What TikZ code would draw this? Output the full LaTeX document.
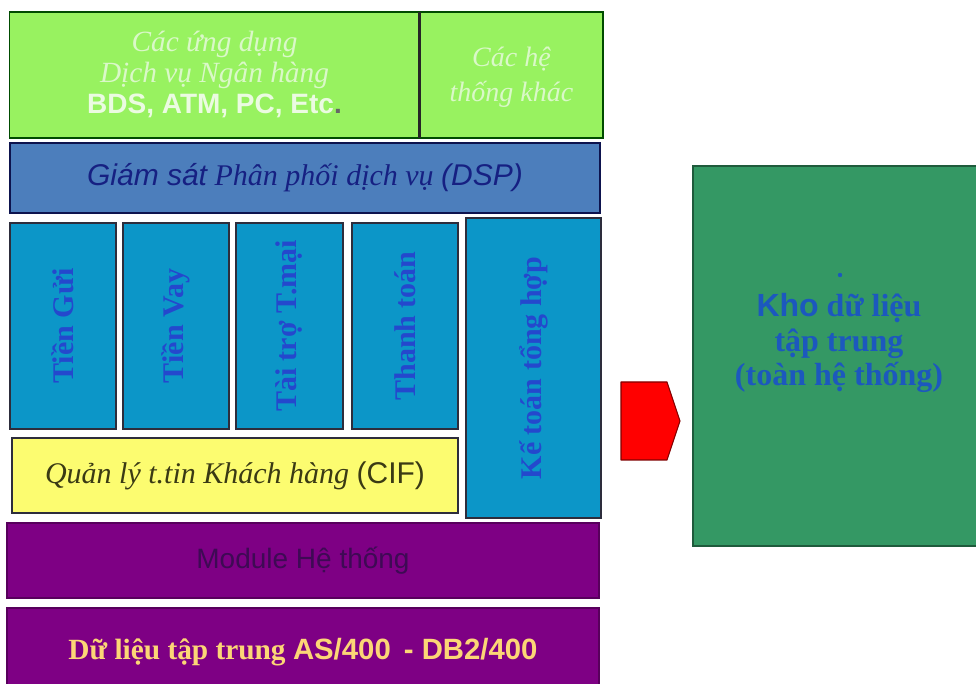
\documentclass[tikz,border=0pt]{standalone}
\usepackage{fontspec}
\setmainfont{Liberation Serif}
\setsansfont{Liberation Sans}
\definecolor{lgreen}{RGB}{152,242,96}
\definecolor{dspblue}{RGB}{76,126,188}
\definecolor{colblue}{RGB}{12,150,200}
\definecolor{cifyel}{RGB}{252,252,112}
\definecolor{purp}{RGB}{126,0,132}
\definecolor{bgreen}{RGB}{52,152,100}
\definecolor{paletxt}{RGB}{218,248,200}
\definecolor{navytxt}{RGB}{22,32,130}
\definecolor{coltxt}{RGB}{36,72,205}
\definecolor{khotxt}{RGB}{28,88,190}
\definecolor{oltxt}{RGB}{58,58,20}
\definecolor{modtxt}{RGB}{62,10,84}
\definecolor{goldtxt}{RGB}{252,214,118}
\definecolor{edge}{RGB}{45,45,60}
\begin{document}
\begin{tikzpicture}[x=0.75pt,y=-0.75pt,
  blk/.style={draw=edge, line width=1.1pt, inner sep=0pt, outer sep=0pt, align=center},
  coltext/.style={rotate=90, text=coltxt, font=\fontsize{22.5}{24}\selectfont\bfseries},
]
\useasboundingbox (0,0) rectangle (976,684);
% top green boxes
\node[blk, fill=lgreen, draw=black!70!green, minimum width=307.5pt, minimum height=94.5pt] (apps) at (214.5,75) {};
\node[blk, fill=lgreen, draw=black!70!green, minimum width=137pt, minimum height=94.5pt] (other) at (511.5,75) {};
\draw[line width=2.2pt, black!85] (apps.north east) -- (apps.south east);
\node[align=center, text=paletxt, font={\fontsize{22}{23.5}\selectfont\itshape}] (appstxt) at ([yshift=0.5pt]apps.center)
  {Các ứng dụng\\
   Dịch vụ Ngân hàng\\
   {\fontsize{21}{23.5}\selectfont\upshape\sffamily\bfseries\color{paletxt!55!white}BDS, ATM, PC, Etc\textcolor{black!60}{.}}};
\node[align=center, text=paletxt, font={\fontsize{21}{26}\selectfont\itshape}] (othertxt) at ([yshift=-1.5pt]other.center)
  {Các hệ\\ thống khác};
% DSP
\node[blk, fill=dspblue, draw=navytxt!60!black, minimum width=442.5pt, minimum height=52.5pt] (dsp) at (305,178) {};
\node[text=navytxt, font={\fontsize{22.5}{24}\selectfont\itshape}] (dsptxt) at (dsp.center)
  {{\sffamily Giám sát} Phân phối dịch vụ {\sffamily (DSP)}};
% columns
\node[blk, fill=colblue, minimum width=79.5pt, minimum height=154.5pt] (c1) at (63,326) {};
\node[blk, fill=colblue, minimum width=79.5pt, minimum height=154.5pt] (c2) at (176,326) {};
\node[blk, fill=colblue, minimum width=80pt, minimum height=154.5pt] (c3) at (289.5,326) {};
\node[blk, fill=colblue, minimum width=79.5pt, minimum height=154.5pt] (c4) at (405,326) {};
\node[blk, fill=colblue, minimum width=101.25pt, minimum height=225pt] (kt) at (533.5,368) {};
\node[coltext] (c1t) at (c1.center) {Tiền Gửi};
\node[coltext] (c2t) at (c2.center) {Tiền Vay};
\node[coltext] (c3t) at (c3.center) {Tài trợ T.mại};
\node[coltext] (c4t) at (c4.center) {Thanh toán};
\node[coltext] (ktt) at (kt.center) {Kế toán tổng hợp};
% CIF
\node[blk, fill=cifyel, minimum width=334.5pt, minimum height=56.25pt] (cif) at (235,475.5) {};
\node[text=oltxt, font={\fontsize{22.5}{24}\selectfont}] (ciftxt) at (cif.center)
  {{\itshape Quản lý t.tin Khách hàng} {\sffamily (CIF)}};
% Module
\node[blk, fill=purp, draw=purp!70!black, minimum width=444pt, minimum height=56.25pt] (mod) at (303,560.5) {};
\node[text=modtxt, font={\fontsize{21}{24}\selectfont\sffamily}] (modtxt) at (mod.center)
  {Module Hệ thống};
% Data
\node[blk, fill=purp, draw=purp!70!black, minimum width=444pt, minimum height=61.5pt] (data) at (303,649) {};
\node[text=goldtxt, font={\fontsize{22}{24}\selectfont\bfseries}] (datatxt) at ([yshift=-2.5pt]data.center)
  {Dữ liệu tập trung {\sffamily AS/400\, - DB2/400}};
% warehouse
\node[blk, fill=bgreen, draw=bgreen!60!black, minimum width=215.25pt, minimum height=285pt] (kho) at (836.5,356) {};
\node[align=center, text=khotxt, font={\fontsize{24}{26}\selectfont\bfseries}] (khotxt) at (839,343)
  {{\sffamily Kho} dữ liệu\\ tập trung\\ (toàn hệ thống)};
\fill[khotxt] (840,275) circle (2.2);
% red arrow
\coordinate (ra1) at (621,382);
\coordinate (ra2) at (667,382);
\coordinate (ra3) at (680,421);
\coordinate (ra4) at (667,460);
\coordinate (ra5) at (621,460);
\draw[fill=red, draw=red!50!black, line width=0.8pt, line join=round] (ra1) -- (ra2) -- (ra3) -- (ra4) -- (ra5) -- cycle;
\end{tikzpicture}
\end{document}
